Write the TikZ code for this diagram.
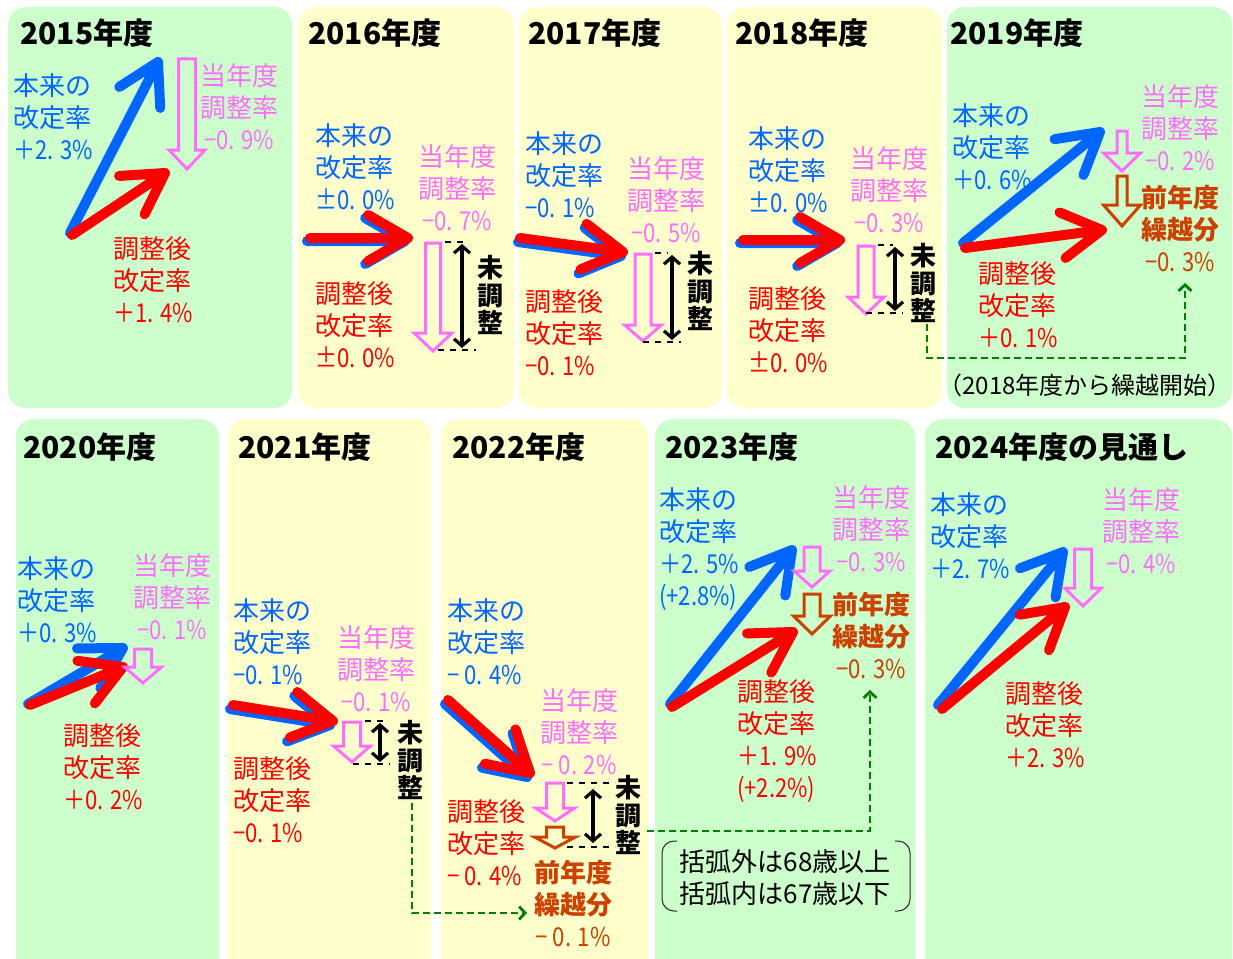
\documentclass[tikz,border=0pt]{standalone}
\usepackage{fontspec}
\setmainfont{Noto Sans CJK JP}
\newfontfamily\nf{Noto Sans CJK JP}[FakeStretch=0.85]
\usetikzlibrary{calc,arrows.meta}
\definecolor{pblue}{RGB}{0,102,255}
\definecolor{pred}{RGB}{255,0,0}
\definecolor{ppink}{RGB}{255,110,255}
\definecolor{pbrown}{RGB}{204,64,0}
\definecolor{pgreen}{RGB}{0,128,0}
\definecolor{bggreen}{RGB}{204,255,204}
\definecolor{bgyellow}{RGB}{255,255,204}
\newcommand\lblsize{\fontsize{26}{32}\selectfont}
\tikzset{
 panelg/.style={fill=bggreen, rounded corners=18pt},
 panely/.style={fill=bgyellow, rounded corners=18pt},
 ttl/.style={anchor=west, inner sep=0pt, font=\fontsize{30}{36}\selectfont\bfseries},
 bl/.style={anchor=west, align=left, inner sep=0pt, text=pblue, font=\lblsize},
 rl/.style={anchor=west, align=left, inner sep=0pt, text=pred, font=\lblsize},
 pl/.style={anchor=center, align=center, inner sep=0pt, text=ppink, font=\lblsize},
 brl/.style={anchor=center, align=center, inner sep=0pt, text=pbrown, font=\lblsize},
 mc/.style={anchor=center, align=center, inner sep=0pt, font=\fontsize{26}{27.5}\selectfont\bfseries},
 fatb/.style={draw=pblue, line width=10pt, line cap=round, line join=round},
 fatr/.style={draw=pred, line width=10pt, line cap=round, line join=round},
 hp/.style={draw=ppink, line width=3pt, line join=miter},
 hb/.style={draw=pbrown, line width=3pt, line join=miter},
 dsh/.style={draw=black, line width=1.8pt, dash pattern=on 6pt off 6pt},
 dbl/.style={draw=black, line width=3.2pt, {Straight Barb[length=7pt,width=16pt]}-{Straight Barb[length=7pt,width=16pt]}},
 gcon/.style={draw=pgreen, line width=2.8pt, dash pattern=on 7pt off 4pt, -{Straight Barb[length=6pt,width=13pt]}},
 brk/.style={draw=black!85, line width=1pt, rounded corners=12pt},
}
\newcommand\fatarr[5]{%
 \coordinate (tmpS) at ($(#2)+(#4,#5)$);
 \coordinate (tmpT) at ($(#3)+(#4,#5)$);
 \draw[#1] (tmpS) -- (tmpT) ($(tmpT)!46pt!30:(tmpS)$) -- (tmpT) -- ($(tmpT)!46pt!-30:(tmpS)$);}
\newcommand\hollow[7]{\draw[#1] ({#2-#6},#3) -- ({#2+#6},#3) -- ({#2+#6},#4) -- ({#2+#7},#4) -- (#2,#5) -- ({#2-#7},#4) -- ({#2-#6},#4) -- cycle;}
\begin{document}
\begin{tikzpicture}[x=1pt,y=-1pt]
\useasboundingbox (0,0) rectangle (1233,958);
\clip (0,0) rectangle (1233,958);
\fill[white] (0,0) rectangle (1233,958);
% panels
\fill[panelg] (8,7) rectangle (292,408);
\fill[panely] (298,7) rectangle (514,408);
\fill[panely] (519,7) rectangle (722,408);
\fill[panely] (727,7) rectangle (942,408);
\fill[panelg] (947,7) rectangle (1232,408);
\fill[panelg] (16,419) rectangle (219,985);
\fill[panely] (228,419) rectangle (431,985);
\fill[panely] (441,419) rectangle (648,985);
\fill[panelg] (655,419) rectangle (915,985);
\fill[panelg] (925,419) rectangle (1232,985);

% ---------- 2015
\node[ttl] (t15) at (20,33) {2015年度};
\coordinate (s15b) at (70,233); \coordinate (e15b) at (158,62);
\coordinate (s15r) at (72,235); \coordinate (e15r) at (165,173);
\fatarr{fatb}{s15b}{e15b}{0}{0}
\fatarr{fatr}{s15r}{e15r}{0}{0}
\hollow{hp}{187}{59}{150}{169}{8.5}{18}
\node[bl] (b15) at (13,117) {本来の\\改定率\\{\nf ＋2. 3\%}};
\node[pl] (p15) at (239,107) {当年度\\調整率\\{\nf −0. 9\%}};
\node[rl] (r15) at (113,280) {調整後\\改定率\\{\nf ＋1. 4\%}};

% ---------- 2016
\node[ttl] (t16) at (308,33) {2016年度};
\coordinate (s16) at (310,238); \coordinate (e16) at (408,238);
\fatarr{fatb}{s16}{e16}{-3}{3}
\fatarr{fatr}{s16}{e16}{0}{0}
\hollow{hp}{433}{243}{333}{351}{7.5}{19}
\coordinate (d16a) at (445,242); \coordinate (d16b) at (467,242);
\coordinate (d16c) at (438,350); \coordinate (d16d) at (476,350);
\draw[dsh] (d16a) -- (d16b); \draw[dsh] (d16c) -- (d16d);
\coordinate (u16a) at (462,244); \coordinate (u16b) at (462,348);
\draw[dbl] (u16a) -- (u16b);
\node[mc] (m16) at (490,295) {未\\調\\整};
\node[bl] (b16) at (315,167) {本来の\\改定率\\{\nf ±0. 0\%}};
\node[pl] (p16) at (457,188) {当年度\\調整率\\{\nf −0. 7\%}};
\node[rl] (r16) at (315,325) {調整後\\改定率\\{\nf ±0. 0\%}};

% ---------- 2017
\node[ttl] (t17) at (528,33) {2017年度};
\coordinate (s17) at (520,238); \coordinate (e17) at (623,252);
\fatarr{fatb}{s17}{e17}{-2}{4}
\fatarr{fatr}{s17}{e17}{0}{0}
\hollow{hp}{643}{254}{325}{341}{8}{18.5}
\coordinate (d17a) at (655,253); \coordinate (d17b) at (668,253);
\coordinate (d17c) at (643,342); \coordinate (d17d) at (681,342);
\draw[dsh] (d17a) -- (d17b); \draw[dsh] (d17c) -- (d17d);
\coordinate (u17a) at (672,255); \coordinate (u17b) at (672,340);
\draw[dbl] (u17a) -- (u17b);
\node[mc] (m17) at (700,291) {未\\調\\整};
\node[bl] (b17) at (525,175) {本来の\\改定率\\{\nf −0. 1\%}};
\node[pl] (p17) at (666,200) {当年度\\調整率\\{\nf −0. 5\%}};
\node[rl] (r17) at (525,333) {調整後\\改定率\\{\nf −0. 1\%}};

% ---------- 2018
\node[ttl] (t18) at (735,33) {2018年度};
\coordinate (s18) at (743,240); \coordinate (e18) at (840,240);
\fatarr{fatb}{s18}{e18}{-3}{3}
\fatarr{fatr}{s18}{e18}{0}{0}
\hollow{hp}{866}{246}{297}{314}{8}{18}
\coordinate (d18a) at (878,245); \coordinate (d18b) at (893,245);
\coordinate (d18c) at (866,313); \coordinate (d18d) at (903,313);
\draw[dsh] (d18a) -- (d18b); \draw[dsh] (d18c) -- (d18d);
\coordinate (u18a) at (895,247); \coordinate (u18b) at (895,311);
\draw[dbl] (u18a) -- (u18b);
\node[mc] (m18) at (923,283) {未\\調\\整};
\node[bl] (b18) at (748,170) {本来の\\改定率\\{\nf ±0. 0\%}};
\node[pl] (p18) at (889,190) {当年度\\調整率\\{\nf −0. 3\%}};
\node[rl] (r18) at (748,330) {調整後\\改定率\\{\nf ±0. 0\%}};

% ---------- 2019
\node[ttl] (t19) at (950,33) {2019年度};
\coordinate (s19b) at (963,243); \coordinate (e19b) at (1100,132);
\coordinate (s19r) at (965,248); \coordinate (e19r) at (1102,230);
\fatarr{fatb}{s19b}{e19b}{0}{0}
\fatarr{fatr}{s19r}{e19r}{0}{0}
\hollow{hp}{1122}{131}{153}{171}{5}{18.5}
\hollow{hb}{1122}{176}{205}{226}{5}{18.5}
\node[bl] (b19) at (952,147) {本来の\\改定率\\{\nf ＋0. 6\%}};
\node[pl] (p19) at (1180,128) {当年度\\調整率\\{\nf −0. 2\%}};
\node[brl] (q19) at (1180,228) {{\bfseries 前年度}\\{\bfseries 繰越分}\\{\nf −0. 3\%}};
\node[rl] (r19) at (978,305) {調整後\\改定率\\{\nf ＋0. 1\%}};
\node[anchor=center, inner sep=0pt, font=\fontsize{24}{28}\selectfont] (n19) at (1085,385) {（2018年度から繰越開始）};
\coordinate (g1a) at (927,324); \coordinate (g1b) at (927,358);
\coordinate (g1c) at (1185,358); \coordinate (g1d) at (1185,283);
\draw[gcon] (g1a) -- (g1b) -- (g1c) -- (g1d);

% ---------- 2020
\node[ttl] (t20) at (23,447) {2020年度};
\coordinate (s20b) at (28,704); \coordinate (e20b) at (123,648);
\coordinate (s20r) at (30,705); \coordinate (e20r) at (123,667);
\fatarr{fatb}{s20b}{e20b}{0}{0}
\fatarr{fatr}{s20r}{e20r}{0}{0}
\hollow{hp}{143}{649}{667}{683}{8.5}{18.5}
\node[bl] (b20) at (17,600) {本来の\\改定率\\{\nf ＋0. 3\%}};
\node[pl] (p20) at (172,597) {当年度\\調整率\\{\nf −0. 1\%}};
\node[rl] (r20) at (63,767) {調整後\\改定率\\{\nf ＋0. 2\%}};

% ---------- 2021
\node[ttl] (t21) at (238,447) {2021年度};
\coordinate (s21) at (233,705); \coordinate (e21) at (333,721);
\fatarr{fatb}{s21}{e21}{-3}{4}
\fatarr{fatr}{s21}{e21}{0}{0}
\hollow{hp}{352}{722}{746}{762}{8.5}{18.5}
\coordinate (d21a) at (365,721); \coordinate (d21b) at (388,721);
\coordinate (d21c) at (353,764); \coordinate (d21d) at (390,764);
\draw[dsh] (d21a) -- (d21b); \draw[dsh] (d21c) -- (d21d);
\coordinate (u21a) at (380,723); \coordinate (u21b) at (380,762);
\draw[dbl] (u21a) -- (u21b);
\node[mc] (m21) at (410,760) {未\\調\\整};
\node[bl] (b21) at (233,642) {本来の\\改定率\\{\nf −0. 1\%}};
\node[pl] (p21) at (376,669) {当年度\\調整率\\{\nf −0. 1\%}};
\node[rl] (r21) at (233,800) {調整後\\改定率\\{\nf −0. 1\%}};

% ---------- 2022
\node[ttl] (t22) at (452,447) {2022年度};
\coordinate (s22) at (448,700); \coordinate (e22) at (530,773);
\fatarr{fatb}{s22}{e22}{-3}{4}
\fatarr{fatr}{s22}{e22}{0}{0}
\hollow{hp}{555}{783}{808}{821}{8.5}{19.5}
\hollow{hb}{555}{827}{837}{848}{8.5}{20.5}
\coordinate (d22a) at (567,783); \coordinate (d22b) at (615,783);
\coordinate (d22c) at (567,847); \coordinate (d22d) at (615,847);
\draw[dsh] (d22a) -- (d22b); \draw[dsh] (d22c) -- (d22d);
\coordinate (u22a) at (593,789); \coordinate (u22b) at (593,843);
\draw[dbl] (u22a) -- (u22b);
\node[mc] (m22) at (628,815) {未\\調\\整};
\node[bl] (b22) at (447,642) {本来の\\改定率\\{\nf − 0. 4\%}};
\node[pl] (p22) at (579,732) {当年度\\調整率\\{\nf − 0. 2\%}};
\node[rl] (r22) at (447,843) {調整後\\改定率\\{\nf − 0. 4\%}};
\node[brl] (q22) at (573,903) {{\bfseries 前年度}\\{\bfseries 繰越分}\\{\nf − 0. 1\%}};
\coordinate (g2a) at (412,803); \coordinate (g2b) at (412,913);
\coordinate (g2c) at (527,913);
\draw[gcon] (g2a) -- (g2b) -- (g2c);
\coordinate (g3a) at (647,831); \coordinate (g3b) at (870,831);
\coordinate (g3c) at (870,690);
\draw[gcon] (g3a) -- (g3b) -- (g3c);

% ---------- 2023
\node[ttl] (t23) at (665,447) {2023年度};
\coordinate (s23b) at (670,704); \coordinate (e23b) at (792,550);
\coordinate (s23r) at (672,707); \coordinate (e23r) at (793,632);
\fatarr{fatb}{s23b}{e23b}{0}{0}
\fatarr{fatr}{s23r}{e23r}{0}{0}
\hollow{hp}{812}{547}{571}{587}{8}{18}
\hollow{hb}{812}{594}{616}{634}{8}{18.5}
\node[bl] (b23) at (659,549) {本来の\\改定率\\{\nf ＋2. 5\%}\\{\nf (+2.8\%)}};
\node[pl] (p23) at (871,529) {当年度\\調整率\\{\nf −0. 3\%}};
\node[brl] (q23) at (871,635) {{\bfseries 前年度}\\{\bfseries 繰越分}\\{\nf −0. 3\%}};
\node[rl] (r23) at (737,741) {調整後\\改定率\\{\nf ＋1. 9\%}\\{\nf (+2.2\%)}};
\node[anchor=center, align=left, inner sep=0pt, font=\fontsize{26}{32}\selectfont] (nt23) at (785,878) {括弧外は68歳以上\\括弧内は67歳以下};
\coordinate (k1) at (677,841); \coordinate (k2) at (662,841);
\coordinate (k3) at (662,911); \coordinate (k4) at (677,911);
\draw[brk] (k1) -- (k2) -- (k3) -- (k4);
\coordinate (k5) at (895,841); \coordinate (k6) at (910,841);
\coordinate (k7) at (910,911); \coordinate (k8) at (895,911);
\draw[brk] (k5) -- (k6) -- (k7) -- (k8);

% ---------- 2024
\node[ttl] (t24) at (935,447) {2024年度の見通し};
\coordinate (s24b) at (938,705); \coordinate (e24b) at (1063,552);
\coordinate (s24r) at (942,709); \coordinate (e24r) at (1065,607);
\fatarr{fatb}{s24b}{e24b}{0}{0}
\fatarr{fatr}{s24r}{e24r}{0}{0}
\hollow{hp}{1083}{549}{588}{606}{8.5}{18.5}
\node[bl] (b24) at (930,536) {本来の\\改定率\\{\nf ＋2. 7\%}};
\node[pl] (p24) at (1141,531) {当年度\\調整率\\{\nf −0. 4\%}};
\node[rl] (r24) at (1005,725) {調整後\\改定率\\{\nf ＋2. 3\%}};
\end{tikzpicture}
\end{document}
